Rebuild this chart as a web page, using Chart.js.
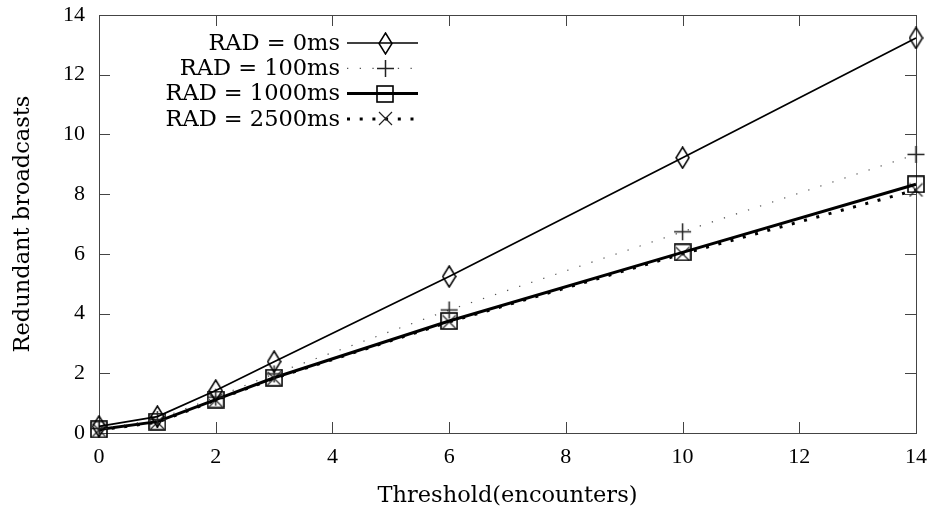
<!DOCTYPE html>
<html>
<head>
<meta charset="utf-8">
<script src="https://cdn.jsdelivr.net/npm/chart.js@4.4.1/dist/chart.umd.min.js"></script>
<style>
  html, body { margin: 0; padding: 0; background: #fff; }
  #wrap { width: 940px; height: 518px; }
</style>
</head>
<body>
<div id="wrap"><canvas id="chart" width="940" height="518"></canvas></div>
<script>
// threshold values (x) and redundant broadcasts per RAD setting
const thresholds = [0, 1, 2, 3, 6, 10, 14];
const rad0 = [0.22, 0.55, 1.42, 2.39, 5.24, 9.22, 13.23];
const rad100 = [0.15, 0.45, 1.2, 1.98, 4.12, 6.74, 9.33];
const rad1000 = [0.12, 0.38, 1.12, 1.85, 3.75, 6.05, 8.33];
const rad2500 = [0.1, 0.36, 1.1, 1.83, 3.72, 6.0, 8.14];
const seriesNames = ["RAD = 0ms", "RAD = 100ms", "RAD = 1000ms", "RAD = 2500ms"];

const FONT = "'DejaVu Serif', 'Liberation Serif', serif";
const TICK_FONT = "'Liberation Serif', serif";

// marker images
function marker(w, h, draw) {
  const c = document.createElement("canvas");
  c.width = w; c.height = h;
  const g = c.getContext("2d");
  g.strokeStyle = "#000";
  g.lineWidth = 1.5;
  draw(g, w, h);
  return c;
}
const diamond = marker(15, 23, (g, w, h) => {
  g.beginPath();
  g.moveTo(w / 2, 1); g.lineTo(w - 1, h / 2); g.lineTo(w / 2, h - 1); g.lineTo(1, h / 2);
  g.closePath(); g.stroke();
});
const plus = marker(19, 19, (g, w, h) => {
  g.strokeStyle = "#222";
  g.beginPath();
  g.moveTo(w / 2, 1); g.lineTo(w / 2, h - 1);
  g.moveTo(1, h / 2); g.lineTo(w - 1, h / 2);
  g.stroke();
});
const square = marker(18, 18, (g, w, h) => {
  g.lineWidth = 1.6;
  g.strokeRect(1, 1, w - 2, h - 2);
});
const cross = marker(15, 15, (g, w, h) => {
  g.strokeStyle = "#222";
  g.lineWidth = 1.2;
  g.beginPath();
  g.moveTo(1, 1); g.lineTo(w - 1, h - 1);
  g.moveTo(w - 1, 1); g.lineTo(1, h - 1);
  g.stroke();
});

function pts(ys) {
  return thresholds.map((x, i) => ({ x: x, y: ys[i] }));
}

// frame and inward ticks, like the gnuplot look
const framePlugin = {
  id: "frame",
  beforeDatasetsDraw(chart) {
    const { ctx, chartArea: a, scales } = chart;
    ctx.save();
    ctx.strokeStyle = "#444";
    ctx.lineWidth = 1;
    ctx.beginPath();
    const L = 11;
    scales.x.ticks.forEach(t => {
      const px = Math.round(scales.x.getPixelForValue(t.value)) + 0.5;
      ctx.moveTo(px, a.bottom); ctx.lineTo(px, a.bottom - L);
      ctx.moveTo(px, a.top); ctx.lineTo(px, a.top + L);
    });
    scales.y.ticks.forEach(t => {
      const py = Math.round(scales.y.getPixelForValue(t.value)) + 0.5;
      ctx.moveTo(a.left, py); ctx.lineTo(a.left + L, py);
      ctx.moveTo(a.right, py); ctx.lineTo(a.right - L, py);
    });
    ctx.stroke();
    ctx.strokeRect(Math.round(a.left) + 0.5, Math.round(a.top) + 0.5,
      Math.round(a.right - a.left), Math.round(a.bottom - a.top));
    ctx.restore();
  }
};

// legend: text right aligned, then line sample with marker
const legendPlugin = {
  id: "sideLegend",
  afterDatasetsDraw(chart) {
    const ctx = chart.ctx;
    ctx.save();
    ctx.font = "22.5px " + FONT;
    ctx.fillStyle = "#000";
    ctx.textAlign = "right";
    ctx.textBaseline = "middle";
    chart.data.datasets.forEach((ds, i) => {
      const y = 43 + i * 25.3;
      ctx.fillText(ds.label, 340, y + 1);
      ctx.beginPath();
      ctx.strokeStyle = ds.borderColor;
      ctx.lineWidth = ds.borderWidth;
      ctx.setLineDash(ds.borderDash || []);
      ctx.moveTo(347, y); ctx.lineTo(418, y);
      ctx.stroke();
      ctx.setLineDash([]);
      const img = ds.pointStyle;
      ctx.drawImage(img, Math.round(385 - img.width / 2), Math.round(y - img.height / 2));
    });
    ctx.restore();
  }
};

Chart.defaults.font.family = FONT;
Chart.defaults.color = "#000";

new Chart(document.getElementById("chart"), {
  type: "line",
  data: {
    datasets: [
      {
        label: seriesNames[0], data: pts(rad0),
        borderColor: "#000", borderWidth: 1.7, pointStyle: diamond
      },
      {
        label: seriesNames[1], data: pts(rad100),
        borderColor: "#555", borderWidth: 1.2, borderDash: [1.3, 11.4], pointStyle: plus
      },
      {
        label: seriesNames[2], data: pts(rad1000),
        borderColor: "#000", borderWidth: 3, pointStyle: square
      },
      {
        label: seriesNames[3], data: pts(rad2500),
        borderColor: "#000", borderWidth: 3, borderDash: [3, 9.7], pointStyle: cross
      }
    ]
  },
  options: {
    responsive: false,
    animation: false,
    layout: { padding: { left: 0, right: 24, top: 15, bottom: 0 } },
    elements: {
      line: { tension: 0, fill: false },
      point: { radius: 8, hoverRadius: 8 }
    },
    datasets: { line: { clip: false } },
    plugins: {
      legend: { display: false },
      tooltip: { enabled: false }
    },
    scales: {
      x: {
        type: "linear", min: 0, max: 14,
        ticks: { stepSize: 2, padding: 11, font: { size: 22, family: TICK_FONT } },
        grid: { display: false, drawTicks: false },
        border: { display: false },
        title: { display: true, text: "Threshold(encounters)", font: { size: 22.5 }, padding: { top: 4, bottom: 8 } },
        afterFit: s => { s.height = 85; s.paddingLeft = 0; s.paddingRight = 0; }
      },
      y: {
        min: 0, max: 14,
        ticks: { stepSize: 2, padding: 14, font: { size: 22, family: TICK_FONT } },
        grid: { display: false, drawTicks: false },
        border: { display: false },
        title: { display: true, text: "Redundant broadcasts", font: { size: 22.5 }, padding: { top: 10, bottom: 0 } },
        afterFit: s => { s.width = 99; s.paddingTop = 0; s.paddingBottom = 0; }
      }
    }
  },
  plugins: [framePlugin, legendPlugin]
});
</script>
</body>
</html>
